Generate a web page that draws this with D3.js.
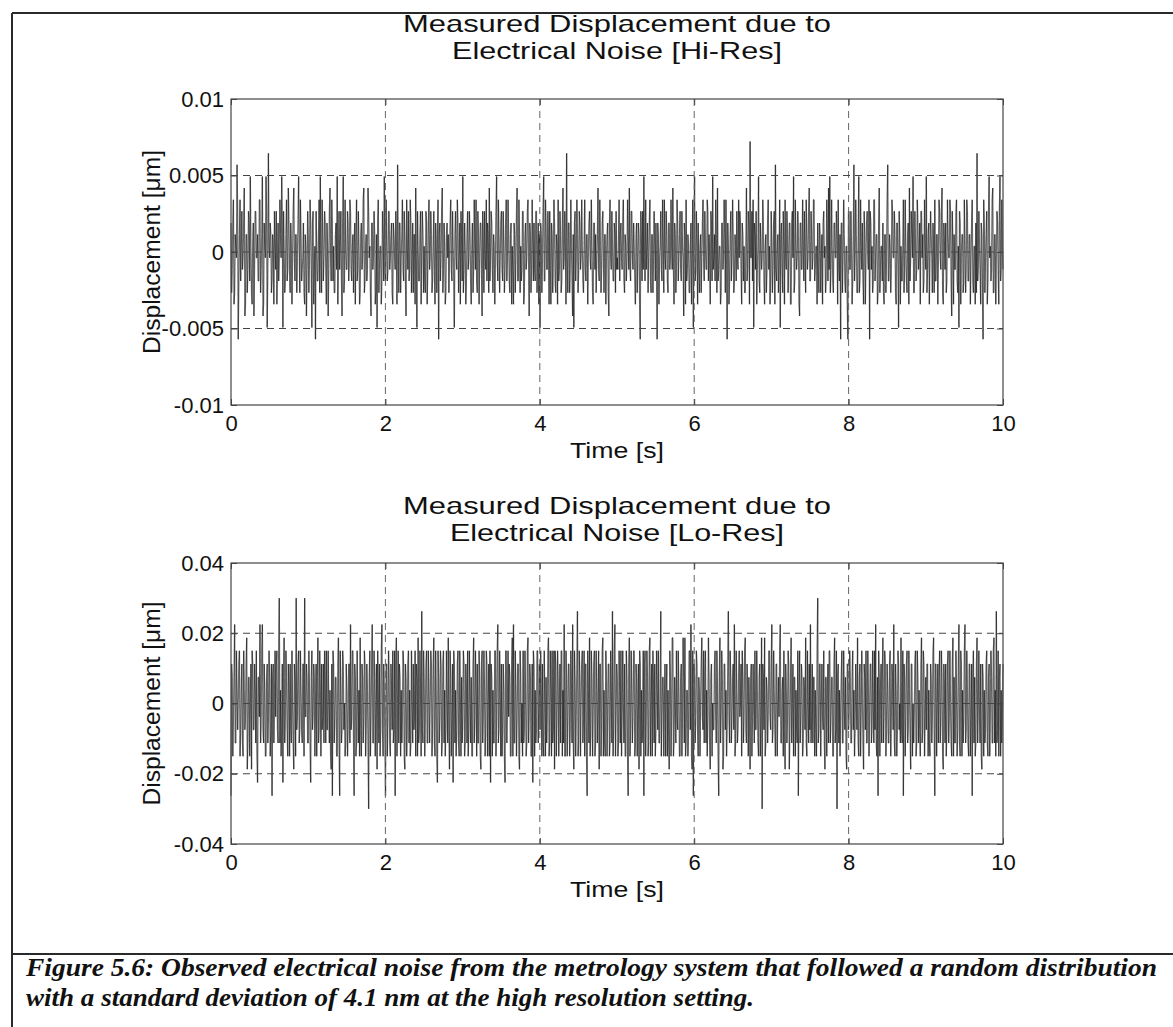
<!DOCTYPE html>
<html>
<head>
<meta charset="utf-8">
<script src="https://cdn.jsdelivr.net/npm/d3@7"></script>
<style>
  html, body { margin: 0; padding: 0; background: #fff; }
  svg text { font-family: "Liberation Sans", Arial, Helvetica, sans-serif; fill: #111; }
</style>
</head>
<body>
<svg id="fig" width="1173" height="1027"></svg>
<script>
// ---- data -------------------------------------------------------------
const durationSec = 10;

// Hi-Res channel: samples in half-LSB counts (odd integers), 1 count = 0.00038 µm
const hiResCountUm = 0.00038;
const hiResCounts = [
  5,-7,-3,5,9,-9,-7,3,1,-1,15,7,-15,-5,3,9,-5,1,7,-3,-1,5,11,-11,-9,3,3,-7,-3,7,5,-5,13,1,-7,-9,1,5,-11,-3,7,7,-1,-1,3,-5,-5,9,9,-7,-3,3,13,-11,-9,5,1,-1,13,7,-13,-3,17,1,
  -1,5,3,-7,-5,3,1,-9,7,1,-3,7,-9,-3,5,-5,-1,9,3,-1,13,5,-13,7,1,-7,-5,3,9,-5,-3,11,5,-3,-7,5,1,-9,-1,7,11,-1,-5,3,3,-7,-1,5,13,1,-7,9,3,-5,-3,-1,5,-7,-9,3,1,-11,-3,7,
  3,-7,-1,9,5,-3,-13,5,7,-9,-3,1,-15,7,1,-5,-5,3,9,-7,13,-1,-7,9,3,-5,-1,7,5,-3,-9,5,1,-11,-3,7,11,-1,-5,9,3,-5,1,-7,-7,3,5,-3,13,-9,-1,7,-3,1,7,-5,-11,5,13,-7,-5,9,1,-3,
  -3,7,5,-5,-1,9,7,-3,-5,1,3,-7,1,5,-9,3,9,-5,-3,7,1,-9,-7,3,5,-3,-1,9,11,-7,-5,1,3,-5,-3,11,7,-1,1,-7,-11,5,5,-3,-1,7,3,-9,-7,3,-13,5,9,-7,-3,1,1,-9,-5,7,3,-5,13,-3,
  -5,9,1,-5,-3,7,7,-3,-1,3,5,-7,-9,5,3,-1,-3,7,1,-9,15,1,-7,5,5,-7,-1,3,9,-3,-5,7,3,-5,-11,9,1,-3,7,-5,-3,9,5,-7,-1,5,-7,3,3,-9,11,-1,-13,7,1,-5,-5,3,7,-9,-1,7,3,-7,
  1,-5,-7,7,5,-9,-3,5,9,-3,-1,7,3,-7,-5,1,7,-3,-9,5,1,-7,3,9,-15,3,5,-5,-1,7,11,-7,-3,5,1,-9,-7,3,5,-1,3,-7,-1,5,9,-3,-5,7,1,-5,-13,3,7,-1,-3,9,5,-7,-1,5,-9,7,3,-5,
  13,-7,-3,5,1,-9,-5,3,7,-3,-1,7,3,-5,-9,1,5,-7,-3,9,1,-3,9,-5,-7,7,3,-9,-1,5,5,-3,-11,7,1,-7,7,-1,-3,9,-5,5,3,-7,11,-5,-1,7,5,-3,-7,3,1,-9,-3,7,13,-1,-5,9,3,-7,-1,5,
  7,-3,-5,7,1,-7,-3,5,9,-5,-1,9,3,-5,-7,3,5,-9,1,-3,-9,5,3,-7,-1,7,11,-5,-5,9,3,-7,1,-5,-3,7,7,-9,-7,3,5,-3,-1,7,9,-1,-11,5,3,-7,-3,9,1,-5,5,-3,-5,7,7,-7,-1,5,-9,3,
  -13,5,3,-7,-1,7,13,-5,-5,9,5,-3,-3,7,1,-9,7,-3,-9,5,3,-7,-1,9,5,-5,-7,3,1,-9,9,-5,-3,7,3,-7,-5,5,11,-3,-1,7,1,-9,17,-1,-7,5,5,-7,-3,9,1,-5,-11,3,-13,5,7,-5,-1,9,3,-7,
  -3,7,5,-3,-1,9,1,-5,-7,1,9,-3,-5,3,3,-9,-1,5,7,-1,-3,9,1,-7,-9,5,5,-3,3,-7,-1,3,11,-3,-5,9,1,-7,-3,5,7,-1,-7,3,3,-9,-1,3,5,-7,-11,5,9,-1,-3,7,1,-5,-5,5,3,-7,7,-3,
  -1,-3,3,9,-5,3,5,-1,-3,5,9,-5,-7,3,1,-5,-1,9,3,-3,11,-3,-5,7,7,-1,-3,5,1,-5,-9,3,5,-7,-1,5,3,-9,-15,7,1,-5,7,-3,13,-1,-5,9,-3,1,5,-7,-1,5,9,-5,-7,3,3,-7,-1,7,1,-5,
  5,-3,-15,5,3,-9,-1,1,7,-3,-5,9,1,-7,9,-1,-3,7,3,-5,-7,5,5,-3,-1,9,1,-3,11,-3,-9,5,3,-7,-3,9,5,-5,-1,3,7,-3,-5,7,1,-1,-11,5,3,-9,9,-5,-3,3,1,-7,-7,1,5,-9,-1,9,-13,3,
  13,-5,-3,7,1,-9,5,-3,-7,1,3,-7,-1,5,9,-1,-5,7,1,-3,-3,9,7,-5,3,-1,-9,7,5,-5,13,-3,-1,3,-5,9,3,-7,11,-5,-3,1,1,-9,-7,5,5,-3,-1,9,3,-7,9,-3,-15,5,1,-9,-5,3,7,-5,-1,9,
  3,-7,-5,3,1,-5,7,-1,-3,9,-1,7,5,-3,-9,5,3,-5,1,-7,-7,1,11,-5,-3,7,5,-9,19,-1,-1,7,-5,9,-13,5,3,-3,7,-9,-3,1,13,-5,-7,5,1,-3,-1,9,5,-5,-9,1,3,-7,-3,5,9,-3,1,-9,-5,7,
  1,-7,-3,5,7,-9,15,-3,-5,1,3,-7,-1,9,-13,3,5,-3,-7,7,1,-9,9,-1,-3,7,3,-7,-1,5,5,-9,-9,5,7,-1,13,-7,-5,9,1,-3,-1,7,3,-9,-11,5,5,-3,-3,9,1,-5,7,-1,-7,9,3,-3,-1,7,11,-5,
  -5,7,3,-3,-1,9,9,-5,-3,1,1,-9,5,-3,-7,5,3,-7,-1,3,-9,5,7,-1,1,-7,-5,9,3,-5,11,-3,13,-7,-3,9,1,-5,-7,5,5,-1,-1,7,3,-9,9,-3,-5,3,-15,5,5,-7,-1,9,3,-5,-7,1,1,-9,-15,7,
  7,-3,-3,7,1,-9,-5,3,15,-5,-1,9,3,-7,-7,1,13,-7,-5,9,1,-3,5,-5,-9,7,3,-9,-1,5,7,-1,-3,9,-15,7,5,-3,1,-7,-5,9,9,-5,-1,3,3,-9,-7,5,11,-7,-3,1,1,-5,5,-7,-9,3,3,-7,-1,9,
  15,-5,-5,3,1,-7,-3,9,7,-1,-1,7,3,-7,-9,5,5,-3,-13,7,3,-9,1,-5,-5,1,9,-7,-3,9,1,-5,-7,3,5,-9,11,-5,-1,7,3,-1,13,-7,-7,7,1,-5,-3,9,5,-3,-1,5,-9,7,7,-1,3,-7,-5,9,1,-3,
  13,-7,-3,3,5,-9,-1,7,3,-1,-7,5,1,-7,9,-5,-5,3,3,-9,-1,9,7,-1,-3,7,11,-7,-9,5,1,-3,5,-7,-5,9,3,-1,-1,9,7,-5,-11,7,1,-9,3,-3,-3,7,9,-5,-7,1,-13,7,5,-9,-1,3,3,-7,-5,9,
  1,-7,-3,9,7,-5,-5,3,3,-9,-1,5,9,-5,-7,1,1,-9,5,-7,17,-5,-3,7,1,-3,-9,5,3,-7,-15,9,5,-7,-1,3,7,-9,-5,7,13,-1,1,-5,-3,9,11,-7,-7,3,3,-9,-1,7,5,-3,-9,7,13,-5,-3,9,1,-3
];

// Lo-Res channel: samples in LSB counts, 1 count = 0.00375 µm
const loResCountUm = 0.00375;
const loResCounts = [
  -7,3,2,-4,-1,2,6,-3,-3,4,1,-2,0,3,4,-4,-2,1,3,-3,-4,4,1,-2,-1,3,5,-5,-3,2,2,-4,0,3,-5,4,3,-2,-2,3,1,-3,4,-4,-6,2,2,-1,6,-3,-1,4,6,-2,-3,3,1,-4,-4,2,3,-3,-1,4,
  2,-4,-2,3,-7,2,3,-3,0,4,-1,3,4,-2,-3,4,8,-3,1,-4,-2,3,-6,2,5,-3,-1,4,2,-2,-4,3,1,-4,3,-2,-3,4,0,-3,-5,3,2,-4,8,-2,-1,3,4,-3,-2,4,1,-2,-3,3,3,-4,8,-1,-1,3,2,-3,
  -3,4,1,-3,-6,2,4,-2,-1,3,2,-4,0,3,-4,2,5,-3,-2,4,1,-4,3,-2,-1,3,-3,4,2,-3,4,-2,-2,4,0,-3,1,-4,-5,3,-7,4,3,-3,-1,2,2,-4,-4,3,5,-3,-7,4,1,-3,-2,4,3,-2,0,-4,-3,3,
  1,-4,-2,3,3,-3,6,-2,-1,4,4,-3,-7,3,2,-4,-3,4,0,-3,1,-4,5,-2,-4,3,2,-3,-1,4,3,-4,-2,3,1,-3,-8,2,4,-4,-1,3,6,-3,-3,4,2,-4,0,3,-5,4,1,-3,3,-4,-2,4,6,-2,-4,3,1,-3,
  -7,3,3,-4,-1,4,2,-3,-4,3,1,-2,4,-3,-2,4,-7,3,5,-4,0,4,-3,3,2,-4,1,-3,-1,4,3,-4,-5,3,2,-4,-2,3,4,-3,1,-4,-3,4,0,-3,3,-2,-1,4,-4,3,2,-4,5,-3,-2,4,1,-4,7,-2,-3,4,
  2,-4,-1,3,4,-3,-3,4,1,-3,0,4,3,-4,-2,3,5,-3,-4,4,1,-4,-6,4,2,-3,-1,4,3,-4,-3,3,4,-3,1,-4,-2,4,0,-3,5,-2,-5,4,2,-4,-1,3,-6,4,3,-3,1,-4,-2,3,4,-3,-4,4,0,-4,2,-3,
  -1,4,3,-4,-3,3,1,-3,4,-4,-2,4,0,-3,2,-4,-4,3,5,-3,-1,4,1,-4,3,-3,-3,4,2,-4,-5,3,4,-3,-1,4,1,-4,-2,4,3,-4,0,3,-4,4,-6,3,2,-4,1,-3,-3,4,4,-4,-1,4,6,-3,-2,4,1,-4,
  3,-4,-2,3,1,-4,-6,4,4,-3,0,4,-1,3,2,-4,-4,3,5,-4,6,-3,-3,4,1,-4,-1,3,3,-4,-5,4,2,-3,0,-4,4,-3,-2,4,1,-4,-3,4,5,-3,-1,3,2,-4,-4,3,-6,4,3,-4,1,-3,-2,4,4,-3,0,3,
  -2,4,1,-4,3,-3,-4,4,0,-4,2,-3,-1,4,5,-4,-3,4,1,-4,4,-3,-2,4,-5,4,3,-4,-1,4,2,-4,0,3,-3,4,4,-4,1,-3,6,-4,-4,4,2,-4,-1,3,3,-4,-2,4,1,-3,6,-3,-5,4,2,-4,-1,3,7,-4,
  -3,4,2,-4,0,3,4,-3,-1,4,-4,3,3,-4,-7,4,1,-3,5,-4,-2,4,2,-4,-1,3,4,-4,-3,4,1,-3,0,4,-5,3,3,-4,-2,4,5,-4,1,-3,-4,4,2,-4,-1,3,3,-4,-3,4,1,-3,7,-4,-2,4,6,-4,-1,3,
  2,-4,-3,4,1,-3,4,-4,-1,4,0,-3,3,-4,-4,4,2,-4,-7,3,5,-4,-2,4,1,-3,-1,4,4,-4,-3,3,2,-4,0,3,-5,4,3,-4,1,-3,-2,4,-7,3,4,-4,-1,4,2,-4,-3,4,5,-4,0,3,-4,4,1,-3,3,-4,
  -2,4,1,-2,4,-3,-3,1,7,-4,-1,2,2,-4,0,3,-4,1,3,-4,1,-2,-5,4,2,-4,-1,5,5,-4,-3,2,0,-3,4,-1,-2,4,1,-4,-4,2,3,-4,-1,5,2,-3,5,-4,-3,1,1,-4,-2,4,4,-2,6,-4,-5,4,-7,3,
  2,-3,-1,4,3,-2,-4,2,1,-4,0,3,5,-1,-2,4,-3,2,4,-3,1,-4,-1,5,2,-3,-5,2,3,-4,0,-2,-2,3,4,-1,-3,4,1,-4,-7,2,5,-3,-1,4,2,-5,-4,3,3,-2,1,-4,-2,3,7,-1,-3,4,2,-3,-1,2,
  3,-2,6,-4,-3,4,1,-3,-2,2,4,-1,0,3,-4,4,2,-3,-1,4,5,-2,-3,3,1,-4,2,-1,-5,2,3,-4,-1,3,0,-3,4,-2,-2,4,1,-3,-4,2,3,-4,-1,5,-8,3,2,-2,5,-4,-3,2,1,-3,-1,4,4,-1,-2,3,
  6,-3,-2,4,1,-2,-4,3,3,-4,0,2,-1,4,6,-3,-3,1,2,-4,4,-2,-5,3,1,-3,-1,4,3,-5,-2,2,5,-3,0,3,-4,2,2,-4,1,-2,-3,4,-7,1,4,-3,-1,3,2,-4,-3,2,1,-2,5,-3,-4,4,0,-3,3,-2,
  6,-3,-1,3,-3,2,2,-4,1,-2,-4,4,8,-3,-2,3,3,-4,0,3,-1,-2,4,-3,-5,2,2,-4,1,3,-3,4,4,-3,-1,2,2,-4,-4,3,5,-3,-2,4,-8,2,3,-3,1,-4,-1,2,4,-3,-3,4,0,-2,2,-4,-5,3,3,-2,
  -1,4,2,-3,-3,2,4,-2,1,-4,-2,3,0,-2,5,-3,-4,2,3,-4,-1,4,1,-3,-5,3,2,-2,4,-3,-3,4,1,-4,-1,3,3,-3,-2,4,0,-3,4,-2,6,-3,-4,2,-7,4,2,-4,1,3,-3,2,5,-3,-1,4,3,-4,-2,3,
  1,-3,-3,3,4,-4,-1,3,2,-2,6,-3,-4,3,1,-4,-2,4,3,-2,0,-3,5,-2,-3,4,-7,3,2,-4,-1,3,4,-3,-2,4,1,-2,-5,3,3,-4,0,-3,-1,3,4,-4,-3,4,2,-3,1,-2,-4,3,5,-3,-2,4,3,-4,-1,2,
  -2,3,3,-4,1,-3,-4,3,2,-3,-1,4,5,-2,-7,3,3,-4,0,3,-3,2,4,-3,-1,4,2,-4,-5,3,1,-3,3,-4,-2,3,4,-3,-1,4,0,-3,-4,3,5,-4,2,-3,-3,4,1,-4,-2,3,6,-3,-4,4,3,-4,1,-3,-1,4,
  6,-3,-2,4,1,-3,-4,3,3,-4,-1,3,-7,2,4,-3,2,-4,-3,3,5,-3,0,4,-1,-3,3,-4,-5,3,2,-4,1,-3,-2,3,4,-3,-4,2,3,-4,-1,4,2,-3,-3,4,5,-3,1,-4,7,-3,-2,4,-4,2,3,-4,1,-3,-1,3
];

const xTicks = [0, 2, 4, 6, 8, 10];
const xTickLabels = ["0", "2", "4", "6", "8", "10"];
const hiResYTicks = [-0.01, -0.005, 0, 0.005, 0.01];
const hiResYTickLabels = ["-0.01", "-0.005", "0", "0.005", "0.01"];
const loResYTicks = [-0.04, -0.02, 0, 0.02, 0.04];
const loResYTickLabels = ["-0.04", "-0.02", "0", "0.02", "0.04"];

const hiResTitle = ["Measured Displacement due to", "Electrical Noise [Hi-Res]"];
const loResTitle = ["Measured Displacement due to", "Electrical Noise [Lo-Res]"];
const xAxisTitle = "Time [s]";
const yAxisTitle = "Displacement [\u03bcm]";
const captionLines = [
  "Figure 5.6: Observed electrical noise from the metrology system that followed a random distribution",
  "with a standard deviation of 4.1 nm at the high resolution setting."
];

// ---- drawing ----------------------------------------------------------
const svg = d3.select("#fig");

// page frame and caption divider
const frame = svg.append("g").attr("stroke", "#2a2a2a").attr("fill", "none");
frame.append("line").attr("x1", 12).attr("x2", 1173).attr("y1", 13).attr("y2", 13).attr("stroke-width", 2);
frame.append("line").attr("x1", 12).attr("x2", 12).attr("y1", 13).attr("y2", 1027).attr("stroke-width", 2);
frame.append("line").attr("x1", 12).attr("x2", 1173).attr("y1", 954).attr("y2", 954).attr("stroke-width", 2);

function drawPanel(cfg) {
  const left = 231, right = 1003;
  const x = d3.scaleLinear().domain([0, durationSec]).range([left, right]);
  const y = d3.scaleLinear().domain([cfg.yTicks[0], cfg.yTicks[cfg.yTicks.length - 1]])
    .range([cfg.bottom, cfg.top]);
  const g = svg.append("g");

  // signal trace: one translucent stroke per sample step, so dense regions build up darker
  const n = cfg.counts.length;
  const samples = cfg.counts.map((c, i) => ({ t: i * durationSec / (n - 1), v: c * cfg.countUm }));
  g.append("g")
    .attr("stroke", "#111")
    .attr("stroke-width", 1.25)
    .attr("stroke-opacity", 0.62)
    .selectAll("line")
    .data(d3.pairs(samples))
    .join("line")
    .attr("x1", d => x(d[0].t)).attr("y1", d => y(d[0].v))
    .attr("x2", d => x(d[1].t)).attr("y2", d => y(d[1].v));

  // dashed grid
  const grid = g.append("g").attr("stroke-dasharray", "7,5").attr("fill", "none");
  grid.selectAll("line.v").data(xTicks.slice(1, -1)).join("line")
    .attr("x1", d => x(d)).attr("x2", d => x(d))
    .attr("y1", cfg.top).attr("y2", cfg.bottom)
    .attr("stroke", "#666").attr("stroke-width", 1);
  grid.selectAll("line.h").data(cfg.yTicks.slice(1, -1)).join("line")
    .attr("x1", left).attr("x2", right)
    .attr("y1", d => y(d)).attr("y2", d => y(d))
    .attr("stroke", "#444").attr("stroke-width", 1);

  // axes box
  g.append("rect")
    .attr("x", left).attr("y", cfg.top)
    .attr("width", right - left).attr("height", cfg.bottom - cfg.top)
    .attr("fill", "none").attr("stroke", "#444").attr("stroke-width", 1.2);

  // tick labels with inward tick marks
  const xAxis = g.append("g").attr("transform", `translate(0,${cfg.bottom})`)
    .call(d3.axisBottom(x).tickValues(xTicks).tickFormat((d, i) => xTickLabels[i])
      .tickSizeInner(-6).tickSizeOuter(0).tickPadding(10));
  const yAxis = g.append("g").attr("transform", `translate(${left},0)`)
    .call(d3.axisLeft(y).tickValues(cfg.yTicks).tickFormat((d, i) => cfg.yTickLabels[i])
      .tickSizeInner(-6).tickSizeOuter(0).tickPadding(7));
  g.append("g").attr("transform", `translate(0,${cfg.top})`)
    .call(d3.axisTop(x).tickValues(xTicks).tickFormat("").tickSizeInner(-6).tickSizeOuter(0));
  g.append("g").attr("transform", `translate(${right},0)`)
    .call(d3.axisRight(y).tickValues(cfg.yTicks).tickFormat("").tickSizeInner(-6).tickSizeOuter(0));
  g.selectAll(".domain").remove();
  g.selectAll(".tick line").attr("stroke", "#444");
  [xAxis, yAxis].forEach(a => a.selectAll("text")
    .style("font-family", '"Liberation Sans", Arial, sans-serif')
    .style("font-size", "22px").attr("fill", "#111"));

  // titles
  const cx = (left + right) / 2;
  cfg.title.forEach((line, i) => {
    g.append("text").attr("x", cx).attr("y", cfg.titleBaseline + i * 27)
      .attr("text-anchor", "middle")
      .attr("textLength", cfg.titleWidths[i]).attr("lengthAdjust", "spacingAndGlyphs")
      .style("font-size", "24px").text(line);
  });
  g.append("text").attr("x", cx).attr("y", cfg.bottom + 53)
    .attr("text-anchor", "middle")
    .attr("textLength", 94).attr("lengthAdjust", "spacingAndGlyphs")
    .style("font-size", "22px").text(xAxisTitle);
  g.append("text")
    .attr("transform", `translate(160,${(cfg.top + cfg.bottom) / 2}) rotate(-90)`)
    .attr("text-anchor", "middle")
    .attr("textLength", 204).attr("lengthAdjust", "spacingAndGlyphs")
    .style("font-size", "23px").text(yAxisTitle);
}

drawPanel({ top: 99, bottom: 405, counts: hiResCounts, countUm: hiResCountUm,
  yTicks: hiResYTicks, yTickLabels: hiResYTickLabels, title: hiResTitle,
  titleBaseline: 32, titleWidths: [428, 330] });
drawPanel({ top: 563, bottom: 844, counts: loResCounts, countUm: loResCountUm,
  yTicks: loResYTicks, yTickLabels: loResYTickLabels, title: loResTitle,
  titleBaseline: 514, titleWidths: [428, 334] });

// caption
const caption = svg.append("g");
caption.selectAll("text").data(captionLines).join("text")
  .attr("x", 26).attr("y", (d, i) => 976 + i * 30)
  .attr("textLength", (d, i) => i === 0 ? 1131 : 728)
  .attr("lengthAdjust", "spacingAndGlyphs")
  .style("font-family", '"Liberation Serif", "Times New Roman", serif')
  .style("font-weight", "bold").style("font-style", "italic")
  .style("font-size", "25px")
  .text(d => d);
</script>
</body>
</html>
